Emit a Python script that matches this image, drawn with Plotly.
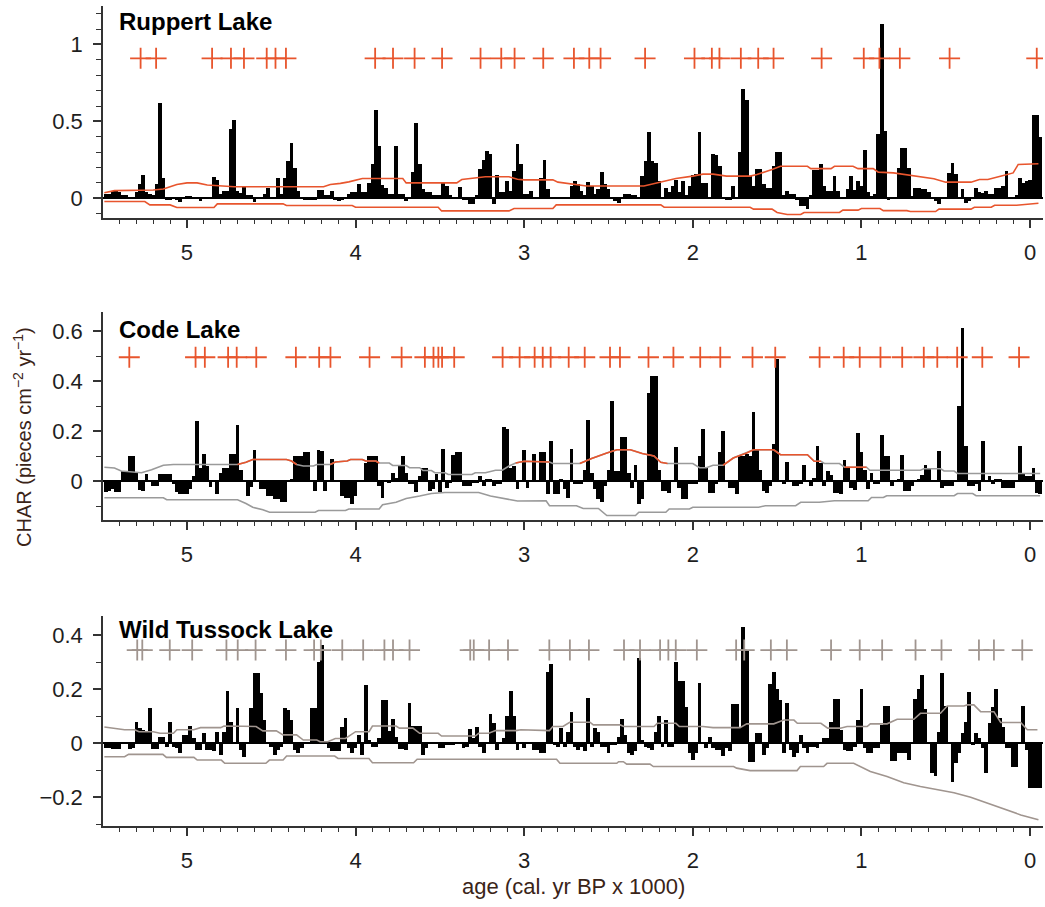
import plotly.graph_objects as go

# ---------------- data ----------------
AGE_START = 5.48      # kyr BP of first bar
AGE_STEP = 0.02       # kyr between bars

ruppert_char = [
    0.03, 0.03, 0.05, 0.05, 0.04, 0.02, 0.02, 0.01, 0.0, 0.04,
    0.09, 0.15, 0.04, 0.03, 0.02, 0.09, 0.62, 0.13, -0.01, -0.01,
    0.0, -0.005, -0.025, 0.01, 0.015, 0.015, 0.01, 0.01, -0.02, 0.0,
    0.0, 0.0, 0.14, 0.12, 0.025, 0.05, 0.045, 0.45, 0.51, 0.05,
    0.035, 0.075, 0.02, 0.02, -0.025, 0.01, 0.01, 0.03, 0.07, 0.0,
    0.0, 0.13, 0.03, 0.13, 0.24, 0.36, 0.2, 0.05, 0.0, -0.01,
    -0.01, -0.01, -0.01, 0.055, 0.055, 0.02, 0.02, 0.05, -0.01, -0.02,
    -0.01, 0.01, 0.03, 0.04, 0.04, 0.09, 0.04, 0.04, 0.10, 0.22,
    0.575, 0.34, 0.085, 0.065, 0.03, 0.03, 0.34, 0.03, 0.03, -0.02,
    0.01, 0.17, 0.49, 0.22, 0.06, 0.04, 0.04, 0.02, 0.02, 0.02,
    0.1, 0.08, 0.02, 0.01, 0.0, 0.075, -0.01, -0.01, -0.04, -0.04,
    0.02, 0.19, 0.25, 0.31, 0.29, -0.035, 0.15, 0.04, 0.04, 0.11,
    0.05, 0.18, 0.35, 0.22, 0.03, 0.03, 0.05, 0.0, 0.0, 0.13,
    0.25, 0.06, 0.01, 0.0, 0.0, 0.0, 0.0, 0.01, 0.08, 0.115,
    0.09, 0.05, 0.02, 0.105, 0.08, 0.03, 0.06, 0.17, 0.09, 0.06,
    0.0, -0.02, -0.03, 0.005, 0.03, 0.03, 0.02, 0.02, 0.0, 0.145,
    0.245, 0.43, 0.24, 0.23, 0.11, 0.0, 0.07, 0.04, 0.08, 0.12,
    0.04, 0.11, 0.02, 0.08, 0.15, 0.155, 0.43, 0.1, 0.1, 0.0,
    0.29, 0.28, 0.21, 0.0, -0.005, -0.005, 0.08, 0.0, 0.3, 0.71,
    0.64, 0.145, 0.08, 0.19, 0.19, 0.09, 0.07, 0.07, 0.21, 0.3,
    0.3, 0.02, 0.05, 0.03, 0.03, -0.01, -0.05, -0.05, -0.07, 0.02,
    0.185, 0.185, 0.22, 0.08, 0.05, 0.05, 0.145, 0.05, 0.0, 0.0,
    0.06, 0.145, 0.055, 0.11, 0.08, 0.315, 0.04, 0.015, 0.025, 0.42,
    1.135, 0.44, -0.005, 0.0, 0.0, 0.2, 0.33, 0.33, 0.2, 0.015,
    0.07, 0.07, 0.06, 0.06, 0.04, 0.0, -0.02, -0.04, 0.005, 0.005,
    0.165, 0.23, 0.16, 0.0, 0.06, -0.03, -0.02, 0.0, 0.07, 0.04,
    0.035, 0.05, 0.025, 0.025, 0.07, 0.07, 0.08, 0.175, 0.0, 0.0,
    0.02, 0.13, 0.1, 0.11, 0.12, 0.54, 0.54, 0.4,
]

code_char = [
    -0.045, -0.04, -0.033, -0.045, -0.045, 0.04, 0.04, 0.10, 0.10, 0.035,
    -0.035, -0.04, 0.027, 0.0, -0.02, -0.02, 0.027, 0.027, 0.027, 0.027,
    -0.01, -0.045, -0.052, -0.052, -0.05, -0.033, 0.02, 0.24, 0.052, 0.11,
    0.06, -0.025, 0.0, -0.052, 0.033, 0.053, 0.053, 0.11, 0.11, 0.225,
    0.046, 0.0, -0.06, -0.025, 0.125, 0.0, -0.033, -0.033, -0.06, -0.06,
    -0.072, -0.072, -0.082, -0.082, 0.0, 0.01, 0.10, 0.10, 0.10, 0.115,
    0.115, 0.0, -0.04, 0.125, 0.12, -0.04, 0.0, 0.088, 0.0, 0.0,
    -0.06, -0.066, -0.066, -0.091, -0.06, 0.0, 0.0, 0.072, 0.10, 0.10,
    0.10, -0.02, -0.066, 0.0, -0.007, 0.033, 0.013, 0.06, 0.1, 0.033,
    -0.013, -0.013, -0.045, 0.02, 0.053, 0.053, -0.04, -0.033, 0.027, -0.045,
    0.13, -0.026, -0.007, 0.105, 0.118, 0.118, -0.02, -0.02, -0.02, -0.007,
    -0.007, 0.02, -0.02, 0.007, 0.007, -0.02, -0.013, -0.013, 0.217, 0.21,
    0.053, 0.06, -0.033, 0.0, 0.125, -0.026, 0.0, 0.11, 0.0, 0.115,
    0.118, -0.052, 0.16, -0.052, -0.052, 0.01, -0.03, -0.068, 0.13, -0.013,
    -0.013, -0.013, 0.046, 0.246, 0.033, -0.033, -0.07, -0.085, -0.02, 0.046,
    0.32, 0.04, 0.04, 0.178, 0.178, 0.033, -0.026, 0.063, -0.092, -0.072,
    0.0, 0.353, 0.42, 0.42, 0.046, -0.04, -0.04, -0.046, 0.0, 0.138,
    -0.026, -0.072, -0.072, -0.013, -0.013, -0.013, 0.10, 0.208, 0.053, -0.046,
    -0.046, -0.013, 0.118, 0.2, 0.0, -0.026, -0.026, -0.052, 0.1, 0.1,
    0.11, 0.1, 0.276, 0.125, 0.046, -0.04, -0.046, -0.02, 0.15, 0.487,
    0.0, -0.013, 0.076, 0.0, -0.02, -0.02, -0.013, 0.063, 0.0, -0.02,
    0.013, 0.14, 0.072, -0.02, 0.04, 0.026, -0.046, -0.046, -0.052, 0.085,
    0.053, -0.026, -0.035, 0.193, 0.118, 0.046, -0.033, 0.033, -0.013, -0.013,
    0.184, 0.1, 0.1, -0.02, 0.0, 0.007, 0.103, -0.04, -0.04, -0.02,
    0.0, 0.007, 0.026, 0.063, 0.053, 0.0, 0.0, 0.122, -0.026, -0.02,
    -0.02, -0.02, 0.0, 0.3, 0.612, 0.142, -0.02, -0.02, -0.013, -0.04,
    0.162, 0.0, 0.02, -0.013, 0.01, 0.01, -0.026, -0.026, -0.026, -0.026,
    0.0, 0.14, 0.033, 0.02, 0.02, 0.053, -0.046, -0.052,
]

wild_char = [
    -0.018, -0.018, -0.022, -0.022, -0.022, 0.006, 0.006, -0.022, -0.018, 0.08,
    0.055, 0.05, 0.043, 0.13, -0.02, -0.02, 0.022, 0.022, -0.012, 0.08,
    -0.012, -0.018, -0.037, 0.03, 0.03, 0.065, 0.02, -0.025, -0.025, 0.037,
    -0.025, -0.025, -0.03, 0.043, -0.043, 0.043, 0.195, 0.08, 0.006, 0.13,
    -0.025, -0.05, 0.0, 0.13, 0.26, 0.26, 0.185, 0.086, 0.0, -0.012,
    -0.043, -0.025, -0.012, 0.13, 0.124, 0.086, -0.025, -0.037, -0.018, 0.0,
    0.006, 0.13, 0.13, 0.3, 0.364, 0.006, -0.018, -0.028, -0.028, -0.028,
    0.062, 0.095, -0.018, -0.037, -0.018, 0.03, -0.043, 0.215, 0.012, -0.012,
    -0.012, 0.018, 0.16, 0.16, 0.046, 0.09, 0.025, -0.022, -0.022, -0.025,
    0.15, 0.064, 0.064, 0.064, -0.043, -0.018, 0.006, 0.006, 0.0, -0.018,
    -0.018, -0.006, -0.006, -0.006, 0.006, 0.006, -0.018, -0.012, 0.052, 0.018,
    0.06, -0.012, -0.037, 0.0, 0.108, 0.075, -0.025, 0.006, 0.02, 0.1,
    0.195, 0.1, -0.025, 0.006, -0.018, 0.0, 0.0, -0.025, -0.025, -0.037,
    -0.037, 0.265, 0.294, -0.006, -0.012, 0.055, -0.012, 0.043, 0.115, -0.012,
    -0.025, -0.012, -0.03, 0.167, -0.012, 0.055, 0.043, -0.012, -0.012, -0.037,
    -0.006, -0.006, 0.025, 0.089, 0.03, -0.037, -0.043, -0.03, 0.315, 0.012,
    -0.012, -0.018, -0.025, 0.043, 0.1, -0.012, 0.086, -0.012, -0.012, 0.3,
    0.23, 0.23, 0.136, -0.037, -0.06, -0.037, 0.222, 0.0, -0.018, 0.025,
    -0.018, -0.025, -0.025, -0.046, -0.018, -0.03, 0.145, 0.145, 0.055, 0.43,
    0.346, -0.068, -0.068, 0.037, 0.037, -0.043, -0.018, 0.22, 0.265, 0.2,
    0.16, -0.037, 0.15, -0.025, -0.05, -0.037, 0.03, -0.018, -0.037, -0.012,
    -0.012, -0.018, 0.0, 0.02, 0.02, 0.08, 0.164, 0.164, 0.05, -0.025,
    -0.03, -0.03, -0.012, 0.086, 0.2, -0.018, -0.037, -0.037, -0.018, -0.018,
    0.068, 0.138, 0.138, -0.065, -0.065, -0.037, -0.037, -0.037, -0.06, 0.0,
    0.163, 0.2, 0.253, 0.126, 0.0, -0.111, -0.12, 0.043, 0.26, 0.138,
    0.0, -0.142, -0.074, -0.037, 0.037, 0.08, 0.19, -0.007, 0.037, 0.018,
    -0.018, -0.111, 0.074, 0.136, 0.2, 0.093, 0.062, -0.018, -0.018, -0.086,
    -0.086, 0.0, 0.138, -0.025, -0.167, -0.167, -0.167, -0.167,
]

# ages (kyr BP) of identified fire peaks (+ symbols)
ruppert_peaks = [5.275, 5.183, 4.851, 4.739, 4.662, 4.527, 4.475, 4.413, 3.884, 3.778,
                 3.650, 3.487, 3.259, 3.136, 3.057, 2.887, 2.705, 2.614, 2.547,
                 2.283, 1.990, 1.887, 1.842, 1.715, 1.612, 1.521, 1.236, 0.986, 0.893,
                 0.772, 0.477, -0.04]
code_peaks = [5.342, 4.949, 4.894, 4.756, 4.705, 4.589, 4.354, 4.216, 4.149, 3.917,
              3.727, 3.589, 3.538, 3.509, 3.487, 3.415, 3.128, 3.027, 2.938, 2.890,
              2.843, 2.736, 2.641, 2.491, 2.432, 2.263, 2.115, 1.956, 1.837, 1.646,
              1.511, 1.248, 1.105, 1.010, 0.887, 0.758, 0.630, 0.550, 0.432, 0.283,
              0.065]
wild_peaks = [5.295, 5.265, 5.102, 4.969, 4.766, 4.699, 4.593, 4.413, 4.246, 4.206,
              4.079, 3.955, 3.829, 3.778, 3.680, 3.320, 3.299, 3.208, 3.096, 2.851,
              2.729, 2.616, 2.408, 2.313, 2.194, 2.145, 2.101, 1.976, 1.743, 1.695,
              1.537, 1.442, 1.180, 1.010, 0.877, 0.679, 0.525, 0.303, 0.214, 0.046]

# peak-symbol level of each panel
peak_levels = [0.91, 0.495, 0.345]

# threshold lines (age, value)
ruppert_upper = [(5.49, 0.036), (5.43, 0.05), (5.20, 0.054), (5.14, 0.06), (5.10, 0.075),
                 (5.06, 0.09), (5.00, 0.10), (4.94, 0.10), (4.88, 0.086), (4.80, 0.08),
                 (4.72, 0.075), (4.19, 0.075), (4.15, 0.09), (4.09, 0.097), (4.04, 0.107),
                 (3.96, 0.129), (3.72, 0.129), (3.70, 0.10), (3.40, 0.10), (3.37, 0.122),
                 (3.23, 0.14), (3.09, 0.14), (3.04, 0.124), (3.00, 0.12), (2.83, 0.12),
                 (2.80, 0.105), (2.71, 0.09), (2.63, 0.08), (2.29, 0.08), (2.17, 0.11),
                 (2.10, 0.129), (2.00, 0.144), (1.94, 0.157), (1.88, 0.157), (1.80, 0.144),
                 (1.66, 0.144), (1.62, 0.155), (1.53, 0.187), (1.48, 0.208), (1.32, 0.208),
                 (1.30, 0.193), (1.18, 0.193), (1.16, 0.208), (1.05, 0.208), (1.02, 0.193),
                 (0.93, 0.193), (0.90, 0.17), (0.81, 0.165), (0.75, 0.155), (0.67, 0.144),
                 (0.62, 0.135), (0.57, 0.127), (0.50, 0.105), (0.35, 0.105), (0.30, 0.122),
                 (0.25, 0.122), (0.17, 0.145), (0.10, 0.165), (0.07, 0.22), (-0.05, 0.225)]
ruppert_lower = [(5.49, -0.021), (5.25, -0.021), (5.22, -0.043), (5.10, -0.043), (5.06, -0.06),
                 (4.84, -0.06), (4.82, -0.036), (4.43, -0.036), (4.41, -0.047), (4.02, -0.047),
                 (4.00, -0.058), (3.51, -0.058), (3.49, -0.082), (3.09, -0.082), (3.06, -0.066),
                 (2.83, -0.066), (2.81, -0.043), (2.19, -0.043), (2.17, -0.058), (1.66, -0.058),
                 (1.64, -0.07), (1.53, -0.07), (1.50, -0.092), (1.44, -0.105), (1.36, -0.105),
                 (1.34, -0.092), (1.13, -0.092), (1.11, -0.077), (1.02, -0.077), (1.00, -0.066),
                 (0.89, -0.066), (0.87, -0.08), (0.73, -0.08), (0.71, -0.086), (0.56, -0.086),
                 (0.54, -0.07), (0.35, -0.07), (0.33, -0.058), (0.23, -0.058), (0.21, -0.045),
                 (0.08, -0.045), (-0.05, -0.032)]

code_upper = [(5.49, 0.055), (5.43, 0.052), (5.39, 0.040), (5.27, 0.033), (5.21, 0.045),
              (5.14, 0.063), (5.08, 0.066), (4.70, 0.066), (4.65, 0.075), (4.61, 0.086),
              (4.41, 0.086), (4.38, 0.080), (4.35, 0.066), (4.31, 0.060), (4.25, 0.060),
              (4.23, 0.066), (4.15, 0.066), (4.12, 0.076), (4.05, 0.080), (4.03, 0.086),
              (3.96, 0.086), (3.94, 0.080), (3.88, 0.080), (3.86, 0.072), (3.80, 0.072),
              (3.78, 0.062), (3.70, 0.062), (3.68, 0.053), (3.62, 0.053), (3.60, 0.042),
              (3.55, 0.042), (3.53, 0.033), (3.47, 0.033), (3.45, 0.026), (3.31, 0.026),
              (3.29, 0.033), (3.23, 0.033), (3.17, 0.043), (3.13, 0.043), (3.09, 0.060),
              (3.05, 0.072), (3.00, 0.079), (2.85, 0.076), (2.83, 0.070), (2.67, 0.070),
              (2.60, 0.090), (2.51, 0.112), (2.45, 0.125), (2.37, 0.125), (2.30, 0.110),
              (2.23, 0.100), (2.19, 0.075), (2.15, 0.070), (2.00, 0.070), (1.96, 0.053),
              (1.92, 0.053), (1.88, 0.063), (1.82, 0.063), (1.76, 0.092), (1.68, 0.112),
              (1.64, 0.125), (1.52, 0.125), (1.48, 0.105), (1.32, 0.105), (1.28, 0.079),
              (1.24, 0.079), (1.22, 0.070), (1.13, 0.070), (1.10, 0.055), (0.97, 0.055),
              (0.95, 0.043), (0.65, 0.043), (0.63, 0.049), (0.53, 0.049), (0.51, 0.040),
              (0.45, 0.040), (0.43, 0.030), (-0.06, 0.030)]
# parts of the Code Lake upper threshold drawn in orange (None = break)
code_upper_orange = [(4.70, 0.066), (4.65, 0.075), (4.61, 0.086), (4.41, 0.086), (4.38, 0.080),
                     (4.35, 0.066), None,
                     (4.15, 0.066), (4.12, 0.076), (4.05, 0.080), (4.03, 0.086), (3.96, 0.086),
                     (3.94, 0.080), (3.88, 0.080), (3.86, 0.072), None,
                     (3.05, 0.072), (3.00, 0.079), (2.85, 0.076), None,
                     (2.67, 0.070), (2.60, 0.090), (2.51, 0.112), (2.45, 0.125), (2.37, 0.125),
                     (2.30, 0.110), (2.23, 0.100), (2.19, 0.075), (2.15, 0.070), None,
                     (1.82, 0.063), (1.76, 0.092), (1.68, 0.112), (1.64, 0.125), (1.52, 0.125),
                     (1.48, 0.105), (1.32, 0.105), (1.28, 0.079), (1.24, 0.079), None,
                     (1.10, 0.055), (0.97, 0.055)]
code_lower = [(5.49, -0.067), (5.14, -0.067), (5.12, -0.075), (4.70, -0.075), (4.65, -0.090),
              (4.61, -0.105), (4.55, -0.115), (4.51, -0.125), (4.24, -0.125), (4.22, -0.118),
              (4.06, -0.118), (4.04, -0.112), (3.86, -0.112), (3.84, -0.095), (3.76, -0.085),
              (3.70, -0.070), (3.62, -0.060), (3.55, -0.050), (3.47, -0.046), (3.27, -0.046),
              (3.20, -0.060), (3.14, -0.066), (3.08, -0.075), (3.04, -0.080), (2.87, -0.079),
              (2.85, -0.099), (2.69, -0.099), (2.65, -0.110), (2.56, -0.110), (2.51, -0.138),
              (2.34, -0.138), (2.32, -0.125), (2.16, -0.125), (2.14, -0.112), (2.02, -0.112),
              (2.00, -0.105), (1.61, -0.105), (1.57, -0.099), (1.39, -0.099), (1.36, -0.085),
              (1.25, -0.085), (1.16, -0.079), (0.96, -0.079), (0.94, -0.066), (0.87, -0.066),
              (0.85, -0.059), (0.45, -0.059), (0.43, -0.050), (0.34, -0.050), (0.32, -0.059),
              (-0.06, -0.059)]

wild_upper = [(5.49, 0.06), (5.43, 0.056), (5.37, 0.05), (5.31, 0.05), (5.285, 0.043),
              (5.20, 0.043), (5.16, 0.037), (5.08, 0.037), (5.06, 0.05), (4.96, 0.05),
              (4.92, 0.058), (4.80, 0.058), (4.78, 0.064), (4.67, 0.063), (4.59, 0.062),
              (4.55, 0.046), (4.47, 0.046), (4.43, 0.031), (4.35, 0.031), (4.31, 0.012),
              (4.23, 0.012), (4.21, 0.006), (4.165, 0.006), (4.12, 0.018), (4.06, 0.018),
              (4.00, 0.043), (3.92, 0.043), (3.90, 0.064), (3.76, 0.064), (3.74, 0.056),
              (3.66, 0.056), (3.62, 0.037), (3.51, 0.037), (3.49, 0.027), (3.29, 0.027),
              (3.27, 0.037), (3.21, 0.037), (3.17, 0.047), (3.05, 0.047), (3.02, 0.05),
              (2.85, 0.047), (2.83, 0.062), (2.77, 0.062), (2.73, 0.078), (2.61, 0.078),
              (2.59, 0.068), (2.43, 0.068), (2.41, 0.062), (2.23, 0.062), (2.21, 0.074),
              (2.10, 0.074), (2.08, 0.062), (1.94, 0.062), (1.88, 0.058), (1.72, 0.058),
              (1.68, 0.072), (1.52, 0.072), (1.46, 0.086), (1.40, 0.086), (1.38, 0.074),
              (1.24, 0.074), (1.20, 0.056), (1.125, 0.056), (1.085, 0.062), (0.966, 0.062),
              (0.947, 0.072), (0.848, 0.072), (0.788, 0.089), (0.689, 0.089), (0.65, 0.111),
              (0.531, 0.111), (0.491, 0.138), (0.392, 0.138), (0.372, 0.142), (0.333, 0.142),
              (0.293, 0.117), (0.214, 0.117), (0.174, 0.077), (0.055, 0.077), (0.016, 0.05),
              (-0.044, 0.05)]
wild_lower = [(5.49, -0.05), (5.37, -0.05), (5.346, -0.041), (5.143, -0.041), (5.122, -0.052),
              (4.959, -0.052), (4.939, -0.062), (4.796, -0.062), (4.776, -0.074), (4.532, -0.074),
              (4.511, -0.062), (4.43, -0.062), (4.409, -0.047), (4.124, -0.047), (4.104, -0.056),
              (3.921, -0.056), (3.90, -0.072), (3.656, -0.072), (3.635, -0.059), (2.808, -0.059),
              (2.788, -0.074), (2.451, -0.074), (2.44, -0.068), (2.412, -0.068), (2.392, -0.077),
              (2.254, -0.077), (2.234, -0.086), (1.758, -0.086), (1.74, -0.092), (1.66, -0.101),
              (1.382, -0.101), (1.362, -0.086), (1.224, -0.086), (1.204, -0.074), (1.046, -0.074),
              (0.947, -0.104), (0.848, -0.123), (0.749, -0.146), (0.65, -0.16), (0.55, -0.173),
              (0.451, -0.183), (0.352, -0.2), (0.253, -0.222), (0.154, -0.244), (0.055, -0.265),
              (-0.05, -0.283)]

lake_names = ["Ruppert Lake", "Code Lake", "Wild Tussock Lake"]
x_tick_vals = [0, 1, 2, 3, 4, 5]
x_tick_text = ["0", "1", "2", "3", "4", "5"]
y_tick_vals = [[0, 0.5, 1], [0, 0.2, 0.4, 0.6], [-0.2, 0, 0.2, 0.4]]
y_tick_text = [["0", "0.5", "1"], ["0", "0.2", "0.4", "0.6"], ["\u22120.2", "0", "0.2", "0.4"]]
y_ranges = [[-0.128, 1.25], [-0.156, 0.676], [-0.306, 0.471]]
x_range = [5.498, -0.077]

# ---------------- styling ----------------
W, H = 1045, 907
ML, MR = 103, 2
ORANGE = "#e8552d"
GRAY = "#9a9a9a"
WGRAY = "#a0958f"
AX = "#333333"
TXT = "#1e1e1e"
FONT = "Liberation Sans, Arial, Helvetica, sans-serif"

# panel vertical extents in pixels from the top (axis top, axis bottom)
panel_px = [(6, 218), (312, 520), (616, 826)]
title_px = [22, 329, 629]


def split(pairs):
    xs, ys = [], []
    for p in pairs:
        if p is None:
            xs.append(None)
            ys.append(None)
        else:
            xs.append(p[0])
            ys.append(p[1])
    return xs, ys


fig = go.Figure()

chars = [ruppert_char, code_char, wild_char]
peaks = [ruppert_peaks, code_peaks, wild_peaks]
peak_colors = [ORANGE, ORANGE, WGRAY]

for k in range(3):
    xa = "x" if k == 0 else f"x{k + 1}"
    ya = "y" if k == 0 else f"y{k + 1}"
    vals = chars[k]
    ages = [round(AGE_START - AGE_STEP * i, 3) for i in range(len(vals))]
    fig.add_trace(go.Bar(x=ages, y=vals, width=AGE_STEP * 1.12,
                         marker=dict(color="black", line=dict(width=0)),
                         xaxis=xa, yaxis=ya, showlegend=False, hoverinfo="x+y"))

    if k == 0:
        lines = [(ruppert_upper, ORANGE), (ruppert_lower, ORANGE)]
    elif k == 1:
        lines = [(code_upper, GRAY), (code_upper_orange, ORANGE), (code_lower, GRAY)]
    else:
        lines = [(wild_upper, WGRAY), (wild_lower, WGRAY)]
    for pairs, col in lines:
        lx, ly = split(pairs)
        fig.add_trace(go.Scatter(x=lx, y=ly, mode="lines", line=dict(color=col, width=1.6),
                                 xaxis=xa, yaxis=ya, showlegend=False, connectgaps=False,
                                 hoverinfo="skip"))

    fig.add_trace(go.Scatter(x=peaks[k], y=[peak_levels[k]] * len(peaks[k]), mode="markers",
                             marker=dict(symbol="cross-thin", size=15,
                                         line=dict(width=1.8, color=peak_colors[k])),
                             xaxis=xa, yaxis=ya, showlegend=False, hoverinfo="x"))

layout = dict(
    width=W, height=H,
    margin=dict(l=ML, r=MR, t=0, b=0, autoexpand=False),
    paper_bgcolor="white", plot_bgcolor="white",
    font=dict(family=FONT, color=TXT),
    bargap=0,
)

annotations = []
for k in range(3):
    top, bot = panel_px[k]
    dom = [1 - bot / H, 1 - top / H]
    xname = "xaxis" if k == 0 else f"xaxis{k + 1}"
    yname = "yaxis" if k == 0 else f"yaxis{k + 1}"
    ya = "y" if k == 0 else f"y{k + 1}"
    xa = "x" if k == 0 else f"x{k + 1}"
    layout[xname] = dict(
        domain=[0, 1], anchor=ya, range=x_range,
        tickmode="array", tickvals=x_tick_vals, ticktext=x_tick_text,
        ticks="outside", ticklen=8, tickwidth=1.5, tickcolor=AX,
        showline=True, linecolor=AX, linewidth=1.5,
        showgrid=False, zeroline=False,
        tickfont=dict(size=22, color=TXT, family=FONT),
        ticklabelstandoff=6,
        minor=dict(tickmode="linear", tick0=0, dtick=0.1, ticks="outside",
                   ticklen=4, tickwidth=1.2, tickcolor=AX, showgrid=False),
    )
    layout[yname] = dict(
        domain=dom, anchor=xa, range=y_ranges[k],
        tickmode="array", tickvals=y_tick_vals[k], ticktext=y_tick_text[k],
        ticks="outside", ticklen=8, tickwidth=1.5, tickcolor=AX,
        showline=True, linecolor=AX, linewidth=1.5,
        showgrid=False, zeroline=True, zerolinecolor="black", zerolinewidth=1.8,
        tickfont=dict(size=22, color=TXT, family=FONT),
        ticklabelstandoff=6,
        minor=dict(tickmode="linear", tick0=0, dtick=0.1, ticks="outside",
                   ticklen=5, tickwidth=1.2, tickcolor=AX, showgrid=False),
    )
    annotations.append(dict(
        text=f"<b>{lake_names[k]}</b>", xref="paper", yref="paper",
        x=(117 - ML) / (W - ML - MR), y=1 - title_px[k] / H,
        xanchor="left", yanchor="middle", showarrow=False,
        font=dict(size=24, color="black", family=FONT)))

annotations.append(dict(
    text="CHAR (pieces cm<sup>\u22122</sup> yr<sup>\u22121</sup>)",
    xref="paper", yref="paper", x=(22 - ML) / (W - ML - MR), y=1 - 437 / H,
    xanchor="center", yanchor="middle", textangle=-90, showarrow=False,
    font=dict(size=20, color="#3a2418", family=FONT)))
annotations.append(dict(
    text="age (cal. yr BP x 1000)", xref="paper", yref="paper",
    x=(573 - ML) / (W - ML - MR), y=1 - 886 / H,
    xanchor="center", yanchor="middle", showarrow=False,
    font=dict(size=22, color="#3a2418", family=FONT)))

layout["annotations"] = annotations
fig.update_layout(**layout)

fig.write_html("out.html", config={"displayModeBar": False},
               post_script="document.body.style.margin='0';")
